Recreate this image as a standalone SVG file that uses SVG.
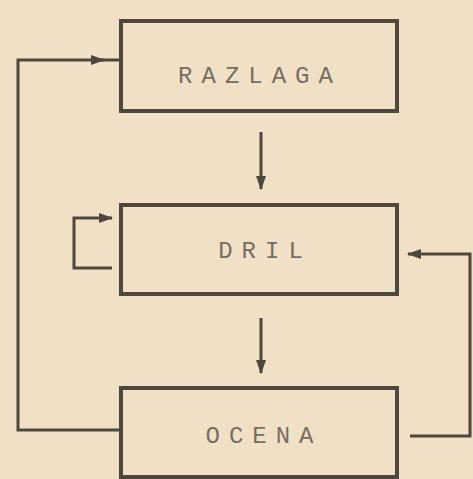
<svg xmlns="http://www.w3.org/2000/svg" width="473" height="479" viewBox="0 0 473 479">
  <style>
    .box { fill: none; stroke: #4f473d; stroke-width: 4; }
    .lbl { font-family: "Liberation Mono", "DejaVu Sans Mono", monospace; font-size: 24px; fill: #776d61; letter-spacing: 9px; text-anchor: middle; }
    .con { fill: none; stroke: #4f473d; stroke-width: 3; }
  </style>
  <defs>
    <marker id="ah" viewBox="0 0 14 12" refX="13" refY="6" markerWidth="14" markerHeight="12" markerUnits="userSpaceOnUse" orient="auto">
      <path d="M0,1 L14,6 L0,11 Z" fill="#4f473d"/>
    </marker>
  </defs>
  <rect width="473" height="479" fill="#f0e0c6"/>
  <g id="razlaga">
    <rect class="box" x="121" y="21" width="276" height="90"/>
    <text class="lbl" x="260" y="83">RAZLAGA</text>
  </g>
  <g id="dril">
    <rect class="box" x="121" y="205" width="276" height="89"/>
    <text class="lbl" x="265" y="258">DRIL</text>
  </g>
  <g id="ocena">
    <rect class="box" x="121" y="388" width="276" height="89"/>
    <text class="lbl" x="264" y="443">OCENA</text>
  </g>
  <g id="connectors">
    <path class="con" d="M261,132 V189" marker-end="url(#ah)"/>
    <path class="con" d="M261,318 V373" marker-end="url(#ah)"/>
    <path class="con" d="M112,268 H74 V218 H112" marker-end="url(#ah)"/>
    <path class="con" d="M121,430 H18 V60 H104" marker-end="url(#ah)"/>
    <path class="con" d="M100,60 H121"/>
    <path class="con" d="M410,436 H470 V254 H408" marker-end="url(#ah)"/>
  </g>
</svg>
